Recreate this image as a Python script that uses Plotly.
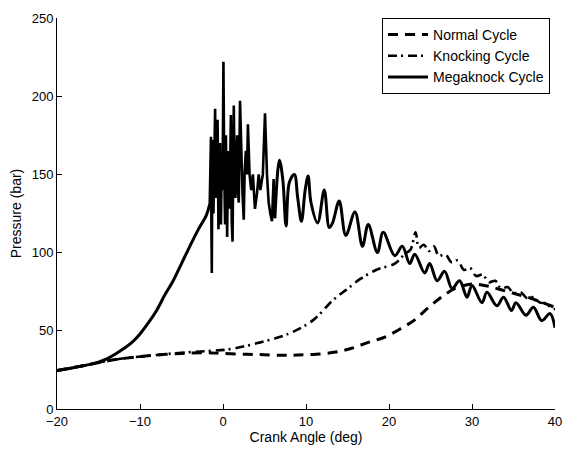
import plotly.graph_objects as go

# Normal cycle (dashed)
normal_x = [-20, -17, -14, -11, -8, -5, -2, 0, 2.9, 5, 7.3, 9, 11.2, 13.6, 15.6, 17.5, 19.5, 21.6, 23.1,
            24.7, 26.3, 27.9, 29, 30, 31, 32, 33, 34, 35, 36, 37, 38, 39, 40]
normal_y = [24.6, 27.5, 30.7, 33, 34.5, 35.5, 36, 35.5, 35, 34.7, 34.3, 34.5, 35, 36.4, 39, 42.6, 46, 52, 57,
            64.6, 71.5, 77, 79, 80, 79.5, 78.5, 77, 75.5, 74, 72.5, 71, 69, 67, 65]

# Knocking cycle (dash-dot)
knock_x = [-20, -17, -14, -11, -8, -5, -2, 0.5, 2.5, 4.5, 6.5, 8.5, 10.9, 13.25, 14.8, 16.5, 18.5, 20.7,
           21.9, 22.6, 23.2, 23.6, 24.2, 24.8, 25.4, 26.0, 26.8, 27.5, 28.3, 29.0, 29.8, 30.5, 31.3, 32.0,
           32.8, 33.5, 34.3, 35.0, 35.8, 36.6, 37.4, 38.2, 39.0, 39.6, 40]
knock_y = [24.6, 27.5, 30.7, 33, 34.5, 36, 37, 38, 40, 42.6, 45.5, 49.5, 57, 69.6, 76, 83, 89, 93,
           99, 102, 113, 103, 105, 101, 104, 98, 99, 94, 95, 89, 90, 85, 86, 81,
           82, 77, 78, 74, 75, 71, 71.5, 68, 67.5, 64, 64]

# Megaknock cycle (solid)
mega_x = [-20, -17, -15, -14, -13, -12, -11, -10, -9, -8, -7, -6, -5, -4, -3, -2,
          -1.6, -1.5, -1.45, -1.4, -1.35, -1.3, -1.25, -1.15, -1.05, -0.95, -0.85, -0.75, -0.65, -0.55,
          -0.45, -0.35, -0.25, -0.15, -0.05, 0.05, 0.15, 0.25, 0.35, 0.45, 0.5, 0.6, 0.7, 0.8, 0.9, 0.95,
          1.05, 1.15, 1.25, 1.3, 1.4, 1.5, 1.6, 1.7, 1.8, 1.9, 2.05, 2.2, 2.35, 2.5, 2.6, 2.75, 2.9, 3.0,
          3.2, 3.4, 3.6, 3.85, 4.1, 4.3, 4.5, 4.8, 5.06, 5.3, 5.5, 5.7, 5.9, 6.1,
          6.25, 6.8, 7.2, 7.6, 8.0, 8.6, 9.0, 9.45, 9.9, 10.25, 10.6, 11.4, 12.2, 12.8, 13.2, 14.0, 14.8,
          15.9, 16.8, 17.5, 18.6, 19.3, 20.7, 21.6, 22.5, 23.1, 24.3, 24.9, 25.8, 26.7, 27.6, 28.5, 29.4,
          30.0, 31.2, 31.8, 33.0, 33.8, 34.75, 35.3, 36.5, 37.4, 38.4, 39.4, 40]
mega_y = [24.6, 27.5, 30, 32, 35, 38.5, 42.5, 48, 55, 63, 73, 82, 93, 104, 114.5, 124,
          131, 150, 174, 120, 87, 140, 172, 125, 165, 192, 135, 178, 185, 115,
          150, 170, 118, 160, 140, 222, 150, 118, 175, 130, 110, 165, 140, 128, 170, 188,
          120, 107, 165, 194, 150, 135, 160, 175, 140, 132, 197, 155, 138, 121, 150, 165, 150, 182,
          150, 140, 150, 128, 138, 150, 140, 150, 189, 150, 132, 125, 120, 147,
          122, 159, 147, 117, 145, 150, 135, 120, 140, 149, 132, 119, 140, 116, 119, 133, 111,
          126, 104, 118, 100, 113, 98, 104, 93, 99, 87, 93, 82, 88, 77, 82, 71.5,
          79, 68, 74.6, 66, 71.5, 63, 68, 60, 65, 56.5, 61, 52]

x_ticks = [-20, -10, 0, 10, 20, 30, 40]
y_ticks = [0, 50, 100, 150, 200, 250]

# split megaknock into smooth rise, chaotic knock, and ringing segments
i_a = mega_x.index(-1.6)
i_b = mega_x.index(6.25)

fig = go.Figure()
fig.add_trace(go.Scatter(x=normal_x, y=normal_y, mode="lines", name="Normal Cycle", line_shape="spline",
                         line=dict(color="black", width=3, dash="10px,7px")))
fig.add_trace(go.Scatter(x=knock_x, y=knock_y, mode="lines", name="Knocking Cycle", line_shape="spline",
                         line=dict(color="black", width=2.6, dash="9px,4px,2px,5px")))
mega_line = dict(color="black", width=3)
fig.add_trace(go.Scatter(x=mega_x[:i_a + 1], y=mega_y[:i_a + 1], mode="lines", name="Megaknock Cycle",
                         legendgroup="mega", line_shape="spline", line=mega_line))
fig.add_trace(go.Scatter(x=mega_x[i_a:i_b + 1], y=mega_y[i_a:i_b + 1], mode="lines", name="Megaknock Cycle",
                         legendgroup="mega", showlegend=False, line=dict(color="black", width=2.6)))
fig.add_trace(go.Scatter(x=mega_x[i_b:], y=mega_y[i_b:], mode="lines", name="Megaknock Cycle",
                         legendgroup="mega", showlegend=False, line_shape="spline", line=mega_line))

axis_common = dict(showgrid=False, zeroline=False, showline=True, linecolor="black", linewidth=1,
                   ticks="inside", ticklen=5, tickcolor="black", mirror=False,
                   ticklabeloverflow="allow",
                   tickfont=dict(family="Liberation Sans, Arial", size=13, color="black"))

fig.update_layout(
    width=573, height=451,
    margin=dict(l=57, r=11, t=12, b=40),
    paper_bgcolor="white", plot_bgcolor="white",
    font=dict(family="Liberation Sans, Arial", size=13, color="black"),
    xaxis=dict(range=[-20, 40], tickvals=x_ticks,
               title=dict(text="Crank Angle (deg)", font=dict(size=14), standoff=2), **axis_common),
    yaxis=dict(range=[0, 250], tickvals=y_ticks,
               title=dict(text="Pressure (bar)", font=dict(size=14), standoff=6), **axis_common),
    legend=dict(x=0.99, y=1.0, xanchor="right", yanchor="top", bgcolor="white",
                bordercolor="black", borderwidth=1, font=dict(size=14),
                tracegroupgap=0, itemwidth=40),
    showlegend=True,
)

fig.write_html("out.html", config={"displayModeBar": False},
               post_script="document.body.style.margin='0px';document.body.style.overflow='hidden';")
